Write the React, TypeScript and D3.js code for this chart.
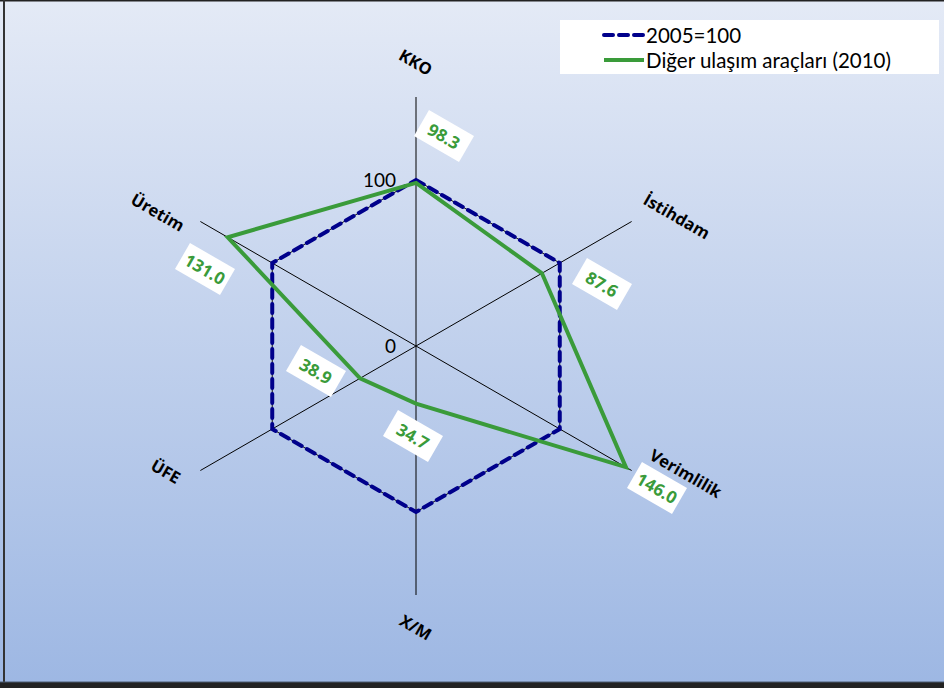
import React from "react";
import * as d3 from "d3";

const axesNames = ["KKO", "İstihdam", "Verimlilik", "X/M", "ÜFE", "Üretim"];
const baseValues = [100, 100, 100, 100, 100, 100];
const sectorValues = [98.3, 87.6, 146.0, 34.7, 38.9, 131.0];
const seriesNames = ["2005=100", "Diğer ulaşım araçları (2010)"];
const tickValues = [0, 100];
const maxValue = 150;

const W = 944, H = 688;
const cx = 416, cy = 346;
const R = 249;
const FONT = "Lato, 'Open Sans', sans-serif";
const BOLD = "'Open Sans', sans-serif";

export default function App() {
  const r = d3.scaleLinear().domain([0, maxValue]).range([0, R]);
  const ang = d3.scaleLinear().domain([0, axesNames.length]).range([0, 2 * Math.PI]);
  const pt = (i: number, v: number): [number, number] => {
    const a = ang(i);
    return [cx + r(v) * Math.sin(a), cy - r(v) * Math.cos(a)];
  };
  const line = d3.line<number>().x((v, i) => pt(i, v)[0]).y((v, i) => pt(i, v)[1]).curve(d3.curveLinearClosed);

  const labelPos: [number, number][] = [
    [416, 62], [677, 216], [686, 473], [416, 627], [166, 471], [158, 212],
  ];
  const dataLabelPos: [number, number][] = [
    [444, 136], [602, 284], [657, 488], [413, 436], [316, 371], [205, 269],
  ];

  return (
    <div style={{ position: "fixed", left: 0, top: 0 }}>
      <svg width={W} height={H} style={{ display: "block" }}>
        <defs>
          <linearGradient id="bg" x1="0" y1="0" x2="0" y2="1">
            <stop offset="0" stopColor="#e4eaf6" />
            <stop offset="1" stopColor="#9db7e3" />
          </linearGradient>
        </defs>
        <rect x={0} y={0} width={W} height={H} fill="url(#bg)" />
        <line x1={0} y1={0.5} x2={W} y2={0.5} stroke="#222" strokeWidth={2} />
        <line x1={4} y1={0} x2={4} y2={H} stroke="#333" strokeWidth={2} />
        <rect x={0} y={682} width={W} height={6} fill="#222" />
        <line x1={0} y1={682} x2={W} y2={682} stroke="#4a5a70" strokeWidth={1} />

        {axesNames.map((n, i) => {
          const [x, y] = pt(i, maxValue);
          return <line key={n} x1={cx} y1={cy} x2={x} y2={y} stroke="#000" strokeWidth={1} />;
        })}

        {tickValues.map((t) => (
          <text key={t} x={cx - 20} y={cy - r(t) + 7} textAnchor="end"
            fontFamily={FONT} fontSize={19} fill="#000">{t}</text>
        ))}

        <path d={line(baseValues) ?? ""} fill="none" stroke="#111" strokeWidth={1} />
        <path d={line(baseValues) ?? ""} fill="none" stroke="#00008b" strokeWidth={4}
          strokeDasharray="9 6" strokeLinecap="round" />
        <path d={line(sectorValues) ?? ""} fill="none" stroke="#3a9b3a" strokeWidth={4} strokeLinejoin="miter" />

        {axesNames.map((n, i) => (
          <text key={n} transform={`translate(${labelPos[i][0]},${labelPos[i][1]}) rotate(30)`}
            textAnchor="middle" dominantBaseline="central" fontFamily={BOLD} fontWeight="bold"
            fontSize={16.5} fill="#000">{n}</text>
        ))}

        {sectorValues.map((v, i) => (
          <g key={i} transform={`translate(${dataLabelPos[i][0]},${dataLabelPos[i][1]}) rotate(30)`}>
            <rect x={-26} y={-15} width={52} height={30} fill="#fff" />
            <text textAnchor="middle" dominantBaseline="central" fontFamily={BOLD} fontWeight="bold"
              fontSize={17} fill="#3a9b3a">{v.toFixed(1)}</text>
          </g>
        ))}

        <rect x={560} y={20} width={379} height={54} fill="#fff" />
        <line x1={604} y1={35} x2={644} y2={35} stroke="#00008b" strokeWidth={4}
          strokeDasharray="9 6" strokeLinecap="round" />
        <text x={646} y={35} dominantBaseline="central" fontFamily={FONT} fontSize={20.5} fill="#000">{seriesNames[0]}</text>
        <line x1={604} y1={60} x2={644} y2={60} stroke="#3a9b3a" strokeWidth={4} />
        <text x={646} y={60} dominantBaseline="central" fontFamily={FONT} fontSize={20.5} fill="#000">{seriesNames[1]}</text>
      </svg>
    </div>
  );
}
